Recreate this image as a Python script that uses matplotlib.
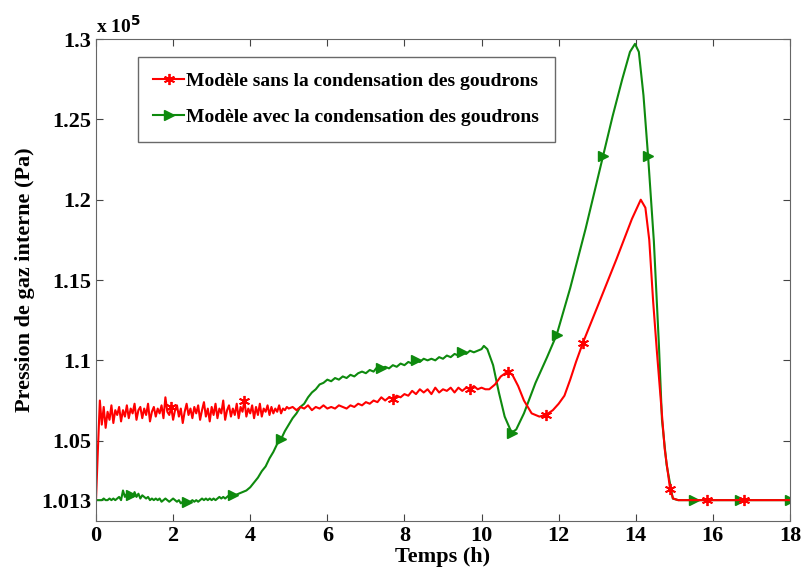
import matplotlib
matplotlib.use("Agg")
import matplotlib.pyplot as plt
import numpy as np

plt.rcParams['font.family'] = ['Liberation Serif', 'DejaVu Serif']
plt.rcParams['font.weight'] = 'bold'

# ---- modele sans condensation (rouge), pression en 1e5 Pa ----
t_red_start = [0.0, 0.05]
p_red_start = [1.013, 1.045]
# partie bruitee 0.10 -> 4.95 h (pas de 0.05 h)
t_red_noisy = np.round(np.arange(0.10, 4.96, 0.05), 2)
p_red_noisy = [1.075, 1.060, 1.071, 1.058, 1.068, 1.063, 1.072, 1.061, 1.069, 1.066,
               1.071, 1.062, 1.069, 1.065, 1.072, 1.064, 1.070, 1.067, 1.073, 1.063,
               1.069, 1.071, 1.064, 1.070, 1.066, 1.073, 1.062, 1.068, 1.071, 1.065,
               1.070, 1.067, 1.072, 1.064, 1.077, 1.068, 1.066, 1.071, 1.063, 1.069,
               1.072, 1.065, 1.070, 1.061, 1.068, 1.073, 1.066, 1.070, 1.064, 1.071,
               1.067, 1.072, 1.063, 1.069, 1.074, 1.065, 1.070, 1.062, 1.071, 1.066,
               1.073, 1.064, 1.070, 1.067, 1.075, 1.063, 1.069, 1.072, 1.065, 1.070,
               1.066, 1.073, 1.064, 1.071, 1.068, 1.075, 1.065, 1.070, 1.067, 1.072,
               1.064, 1.071, 1.066, 1.073, 1.065, 1.070, 1.068, 1.072, 1.066, 1.071,
               1.067, 1.070, 1.068, 1.072, 1.067, 1.070, 1.069, 1.071]
# 5.0 -> 10.1 h (pas de 0.1 h)
t_red_mid = np.round(np.arange(5.0, 10.15, 0.1), 2)
p_red_mid = [1.070, 1.071, 1.069, 1.071, 1.070, 1.072, 1.069, 1.071, 1.070, 1.072,
             1.070, 1.071, 1.070, 1.072, 1.071, 1.070, 1.072, 1.071, 1.073, 1.072,
             1.074, 1.073, 1.075, 1.074, 1.077, 1.075, 1.077, 1.076, 1.078, 1.077,
             1.079, 1.078, 1.081, 1.079, 1.082, 1.080, 1.082, 1.079, 1.083, 1.080,
             1.082, 1.081, 1.083, 1.080, 1.083, 1.081, 1.083, 1.082, 1.084, 1.082,
             1.083, 1.082]
t_red_end = [10.2, 10.35, 10.5, 10.68, 10.8, 10.95, 11.1, 11.3, 11.5, 11.67,
             11.85, 12.0, 12.15, 12.3, 12.45, 12.63, 13.0, 13.5, 13.9, 14.13,
             14.25, 14.35, 14.45, 14.55, 14.65, 14.75, 14.89, 14.97, 15.1, 15.5,
             15.85, 16.8, 18.0]
p_red_end = [1.082, 1.085, 1.090, 1.093, 1.091, 1.084, 1.075, 1.067, 1.065, 1.066,
             1.069, 1.073, 1.078, 1.088, 1.099, 1.111, 1.133, 1.163, 1.188, 1.200,
             1.195, 1.175, 1.137, 1.105, 1.075, 1.045, 1.020, 1.014, 1.013, 1.013,
             1.013, 1.013, 1.013]
red_marks = [1.95, 3.85, 7.7, 9.7, 10.68, 11.67, 12.63, 14.89, 15.85, 16.8]

# ---- modele avec condensation (vert) ----
t_green_start = np.round(np.arange(0.0, 3.56, 0.05), 2)
p_green_start = [1.013, 1.013, 1.013, 1.013, 1.014, 1.013, 1.013, 1.014, 1.013, 1.014,
                 1.013, 1.014, 1.015, 1.013, 1.019, 1.015, 1.017, 1.014, 1.016, 1.015,
                 1.018, 1.015, 1.017, 1.014, 1.016, 1.015, 1.014, 1.015, 1.013, 1.014,
                 1.013, 1.014, 1.013, 1.014, 1.012, 1.013, 1.014, 1.013, 1.012, 1.013,
                 1.014, 1.013, 1.012, 1.013, 1.011, 1.012, 1.010, 1.012, 1.011, 1.012,
                 1.013, 1.012, 1.013, 1.012, 1.013, 1.014, 1.013, 1.014, 1.013, 1.014,
                 1.013, 1.014, 1.013, 1.014, 1.015, 1.014, 1.015, 1.014, 1.015, 1.016,
                 1.015, 1.016]
t_green_mid = np.round(np.arange(3.6, 10.05, 0.1), 2)
p_green_mid = [1.016, 1.017, 1.018, 1.019, 1.021, 1.024, 1.027, 1.031, 1.034, 1.039,
               1.043, 1.048, 1.051, 1.056, 1.060, 1.064, 1.067, 1.071, 1.073, 1.077,
               1.080, 1.082, 1.085, 1.086, 1.088, 1.087, 1.089, 1.088, 1.090, 1.089,
               1.091, 1.090, 1.092, 1.093, 1.092, 1.094, 1.093, 1.096, 1.095, 1.096,
               1.095, 1.097, 1.096, 1.098, 1.097, 1.099, 1.098, 1.100, 1.099, 1.101,
               1.100, 1.101, 1.100, 1.102, 1.101, 1.103, 1.102, 1.104, 1.103, 1.105,
               1.104, 1.106, 1.105, 1.106, 1.107]
t_green_end = [10.06, 10.15, 10.3, 10.45, 10.6, 10.78, 10.9, 11.1, 11.4, 11.7,
               11.95, 12.3, 12.7, 13.15, 13.4, 13.65, 13.85, 13.98, 14.08, 14.2,
               14.32, 14.47, 14.6, 14.68, 14.8, 14.96, 15.1, 15.5, 16.7, 18.0]
p_green_end = [1.109, 1.107, 1.097, 1.080, 1.065, 1.055, 1.057, 1.067, 1.086, 1.102,
               1.116, 1.145, 1.182, 1.227, 1.252, 1.275, 1.292, 1.297, 1.292, 1.265,
               1.227, 1.174, 1.110, 1.063, 1.035, 1.014, 1.013, 1.013, 1.013, 1.013]
green_marks = [0.9, 2.35, 3.55, 4.8, 7.4, 8.3, 9.5, 10.78, 11.95, 13.15,
               14.32, 15.5, 16.7, 18.0]

t_red = np.concatenate([t_red_start, t_red_noisy, t_red_mid, t_red_end])
p_red = np.concatenate([p_red_start, p_red_noisy, p_red_mid, p_red_end])
t_green = np.concatenate([t_green_start, t_green_mid, t_green_end])
p_green = np.concatenate([p_green_start, p_green_mid, p_green_end])

rm = [int(np.argmin(np.abs(t_red - m))) for m in red_marks]
gm = [int(np.argmin(np.abs(t_green - m))) for m in green_marks]

red_c = '#ff0000'
green_c = '#0e8a0e'

fig = plt.figure(figsize=(8.02, 5.74), dpi=100)
ax = fig.add_axes([0.1197, 0.0923, 0.8653, 0.8397])

lg, = ax.plot(t_green, p_green, color=green_c, lw=1.5, marker='>', ms=6.5,
              markevery=gm, label='Modèle avec la condensation des goudrons')
lr, = ax.plot(t_red, p_red, color=red_c, lw=1.5, marker=(6, 2, 0), ms=8, mew=1.3,
              markevery=rm, label='Modèle sans la condensation des goudrons')

ax.set_xlim(0, 18)
ax.set_ylim(1.0, 1.3)
ax.set_xticks(np.arange(0, 19, 2))
yt = [1.013, 1.05, 1.1, 1.15, 1.2, 1.25, 1.3]
ax.set_yticks(yt)
ax.set_yticklabels(['1.013', '1.05', '1.1', '1.15', '1.2', '1.25', '1.3'])
ax.tick_params(direction='in', top=True, right=True, labelsize=16,
               color='#444444', length=5)
for s in ax.spines.values():
    s.set_color('#666666')

ax.set_xlabel('Temps (h)', fontsize=16, fontweight='bold', labelpad=1)
ax.set_ylabel('Pression de gaz interne (Pa)', fontsize=16, fontweight='bold')
ax.text(0.0, 1.005, 'x 10$^{\\mathbf{5}}$', transform=ax.transAxes,
        fontsize=14, fontweight='bold', ha='left', va='bottom')

leg = ax.legend(handles=[lr, lg], loc='upper left', bbox_to_anchor=(0.06, 0.963),
                fontsize=14, fancybox=False, handlelength=1.6, handletextpad=0.1,
                borderpad=0.8, labelspacing=0.95, borderaxespad=0)
leg.get_frame().set_edgecolor('#444444')
leg.get_frame().set_linewidth(1.0)

plt.savefig('out.png')
